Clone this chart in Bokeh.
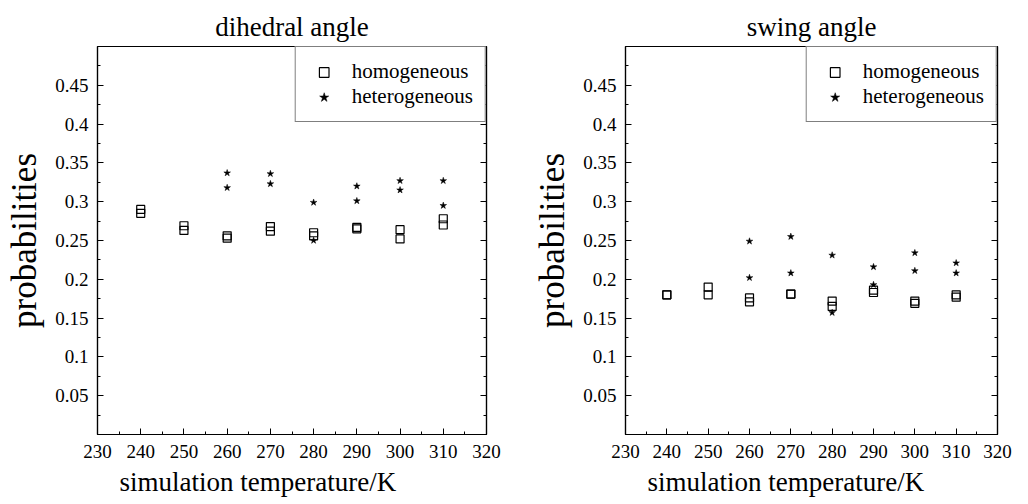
from bokeh.plotting import figure
from bokeh.layouts import row
from bokeh.models import (LinearAxis, Legend, LegendItem, FixedTicker, Range1d,
                          Title, CustomLabelingPolicy)
from bokeh.embed import file_html
from bokeh.resources import INLINE

# ---------------- data ----------------
temps = [240, 250, 260, 270, 280, 290, 300, 310]
het_temps = [260, 270, 280, 290, 300, 310]

dih_hom_a = [0.290, 0.269, 0.256, 0.268, 0.260, 0.267, 0.264, 0.278]
dih_hom_b = [0.285, 0.263, 0.253, 0.262, 0.256, 0.265, 0.252, 0.270]
dih_het_a = [0.337, 0.336, 0.299, 0.320, 0.327, 0.327]
dih_het_b = [0.318, 0.323, 0.250, 0.301, 0.315, 0.295]

swi_hom_a = [0.180, 0.190, 0.176, 0.181, 0.172, 0.186, 0.172, 0.180]
swi_hom_b = [0.180, 0.180, 0.171, 0.181, 0.165, 0.183, 0.169, 0.177]
swi_het_a = [0.249, 0.255, 0.231, 0.216, 0.234, 0.221]
swi_het_b = [0.202, 0.208, 0.157, 0.193, 0.211, 0.208]

x_ticks = [230, 240, 250, 260, 270, 280, 290, 300, 310, 320]
x_minor = [235, 245, 255, 265, 275, 285, 295, 305, 315]
y_ticks = [0.05, 0.1, 0.15, 0.2, 0.25, 0.3, 0.35, 0.4, 0.45]
y_labels = ["0.05", "0.1", "0.15", "0.2", "0.25", "0.3", "0.35", "0.4", "0.45"]
y_minor = [0.025, 0.075, 0.125, 0.175, 0.225, 0.275, 0.325, 0.375, 0.425, 0.475]

x_label = "simulation temperature/K"
y_label = "probabilities"
series_labels = ["homogeneous", "heterogeneous"]

FONT = "Liberation Serif"


def make_panel(title, hom_a, hom_b, het_a, het_b, width, left_border, right_border):
    p = figure(width=width, height=504, output_backend="svg", toolbar_location=None,
               x_range=Range1d(230, 320), y_range=Range1d(0, 0.5),
               min_border_left=left_border, min_border_right=right_border,
               min_border_top=46, min_border_bottom=70)
    p.title.text = title
    p.title.align = "center"
    p.title.text_font = FONT
    p.title.text_font_size = "27px"
    p.title.text_font_style = "normal"
    p.title.text_color = "black"
    p.title.standoff = 10

    p.grid.visible = False
    p.background_fill_color = "white"
    p.border_fill_color = "white"
    p.outline_line_color = "black"
    p.outline_line_width = 1.2
    p.outline_line_alpha = 1.0

    xt = FixedTicker(ticks=x_ticks, minor_ticks=x_minor)
    yt = FixedTicker(ticks=y_ticks, minor_ticks=y_minor)
    p.xaxis.ticker = xt
    p.yaxis.ticker = yt
    p.yaxis.major_label_overrides = {t: l for t, l in zip(y_ticks, y_labels)}

    right_ax = LinearAxis(ticker=yt)
    right_ax.major_label_policy = CustomLabelingPolicy(
        code="for (const i of indices) { indices.unset(i) } return indices")
    p.add_layout(right_ax, "right")

    for ax in p.axis:
        ax.axis_line_color = "black"
        ax.axis_line_width = 1.2
        ax.major_tick_in = 6
        ax.major_tick_out = 0
        ax.minor_tick_in = 3
        ax.minor_tick_out = 0
        ax.major_tick_line_color = "black"
        ax.minor_tick_line_color = "black"
        ax.major_label_text_font = FONT
        ax.major_label_text_color = "black"
        ax.axis_label_text_font = FONT
        ax.axis_label_text_font_style = "normal"
        ax.axis_label_text_color = "black"

    p.xaxis.major_label_text_font_size = "19px"
    p.yaxis[0].major_label_text_font_size = "19px"
    p.xaxis.major_label_standoff = 10
    p.yaxis[0].major_label_standoff = 9
    p.yaxis[0].axis_label = y_label
    p.yaxis[0].axis_label_text_font_size = "35px"
    p.yaxis[0].axis_label_standoff = 8

    # x-axis title: in the original it sits left of centre
    xl = Title(text=x_label, align="left", offset=22, text_font=FONT,
               text_font_size="27px", text_font_style="normal",
               text_color="black", standoff=9)
    p.add_layout(xl, "below")

    r_hom = p.scatter(temps, hom_a, marker="square", size=8, fill_color=None,
                      line_color="black", line_width=1.2)
    p.scatter(temps, hom_b, marker="square", size=8, fill_color=None,
              line_color="black", line_width=1.2)
    r_het = p.scatter(het_temps, het_a, marker="star", size=7, fill_color="black",
                      line_color="black", line_width=0.5)
    p.scatter(het_temps, het_b, marker="star", size=7, fill_color="black",
              line_color="black", line_width=0.5)

    legend = Legend(items=[LegendItem(label=series_labels[0], renderers=[r_hom]),
                           LegendItem(label=series_labels[1], renderers=[r_het])],
                    location="top_right", margin=0, padding=12, spacing=-5,
                    glyph_width=32, glyph_height=24, label_height=22,
                    label_standoff=12, label_text_font=FONT,
                    label_text_font_size="21px", label_text_color="black",
                    border_line_color="black", border_line_width=1,
                    background_fill_color="white", background_fill_alpha=1.0)
    p.add_layout(legend, "center")
    return p


p1 = make_panel("dihedral angle", dih_hom_a, dih_hom_b, dih_het_a, dih_het_b, 530, 97, 44)
p2 = make_panel("swing angle", swi_hom_a, swi_hom_b, swi_het_a, swi_het_b, 494, 92, 13)

layout = row(p1, p2)
open("out.html", "w").write(file_html(layout, INLINE))
